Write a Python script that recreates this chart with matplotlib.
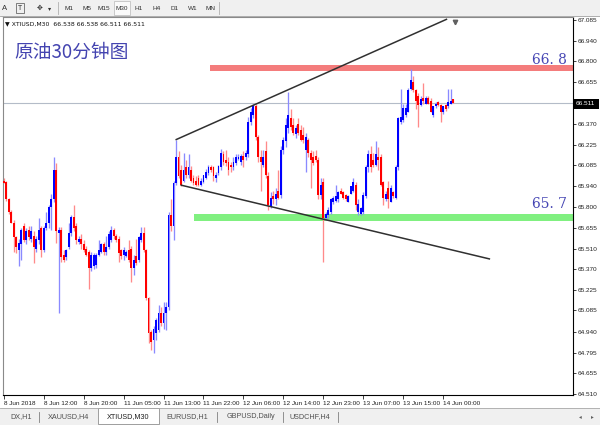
import matplotlib
matplotlib.use("Agg")
import matplotlib.pyplot as plt
from matplotlib.patches import Rectangle, Polygon
from matplotlib.lines import Line2D
import numpy as np

# XTIUSD M30 candles (oldest first)
opens = [65.98, 65.97, 65.85, 65.76, 65.69, 65.59, 65.50, 65.54, 65.67, 65.57,
         65.64, 65.58, 65.60, 65.51, 65.57, 65.65, 65.50, 65.65, 65.69, 65.80,
         65.85, 66.05, 65.62, 65.64, 65.47, 65.45, 65.52, 65.62, 65.73, 65.67,
         65.56, 65.58, 65.54, 65.51, 65.49, 65.38, 65.39, 65.40, 65.47, 65.49,
         65.54, 65.49, 65.52, 65.57, 65.64, 65.60, 65.58, 65.50, 65.47, 65.46,
         65.50, 65.51, 65.38, 65.46, 65.43, 65.57, 65.62, 65.50, 65.17, 64.94,
         64.88, 64.93, 64.95, 65.07, 65.00, 65.07, 65.11, 65.74, 65.67, 65.96,
         66.14, 66.05, 65.98, 66.07, 66.02, 66.05, 66.00, 65.98, 66.00, 65.95,
         65.97, 66.00, 66.03, 66.07, 66.07, 66.00, 66.03, 66.07, 66.16, 66.12,
         66.11, 66.09, 66.07, 66.10, 66.13, 66.11, 66.15, 66.14, 66.16, 66.38,
         66.43, 66.49, 66.28, 66.14, 66.09, 66.18, 66.01, 65.80, 65.87, 65.85,
         65.91, 65.88, 66.19, 66.25, 66.34, 66.41, 66.36, 66.30, 66.37, 66.33,
         66.29, 66.19, 66.26, 66.17, 66.14, 66.15, 66.12, 65.88, 65.97, 65.72,
         65.74, 65.76, 65.83, 65.84, 65.85, 65.91, 65.90, 65.88, 65.83, 65.89,
         65.91, 65.95, 65.76, 65.75, 65.76, 65.87, 66.07, 66.16, 66.12, 66.09,
         66.14, 66.14, 65.97, 65.85, 65.93, 65.83, 65.90, 65.86, 66.07, 66.38,
         66.40, 66.43, 66.45, 66.61, 66.66, 66.60, 66.56, 66.50, 66.55, 66.51,
         66.55, 66.53, 66.43, 66.49, 66.52, 66.50, 66.45, 66.50, 66.49, 66.51,
         66.538]
highs = [66.00, 65.98, 65.86, 65.78, 65.71, 65.60, 65.58, 65.65, 65.69, 65.65,
         65.67, 65.67, 65.63, 65.60, 65.72, 65.67, 65.67, 65.76, 65.81, 65.89,
         66.14, 66.10, 65.66, 65.66, 65.50, 65.51, 65.69, 65.74, 65.81, 65.69,
         65.60, 65.61, 65.57, 65.53, 65.50, 65.49, 65.48, 65.48, 65.57, 65.55,
         65.56, 65.60, 65.63, 65.67, 65.65, 65.61, 65.60, 65.51, 65.52, 65.50,
         65.57, 65.53, 65.47, 65.58, 65.60, 65.66, 65.66, 65.51, 65.18, 64.95,
         64.98, 65.03, 65.12, 65.11, 65.14, 65.14, 65.76, 65.85, 65.98, 66.26,
         66.18, 66.09, 66.17, 66.12, 66.16, 66.08, 66.02, 66.01, 66.02, 66.00,
         66.02, 66.06, 66.09, 66.09, 66.08, 66.04, 66.09, 66.20, 66.18, 66.19,
         66.14, 66.11, 66.14, 66.16, 66.16, 66.16, 66.18, 66.19, 66.42, 66.48,
         66.51, 66.51, 66.29, 66.19, 66.19, 66.25, 66.04, 65.90, 65.91, 65.93,
         66.05, 66.22, 66.28, 66.41, 66.59, 66.47, 66.41, 66.36, 66.41, 66.36,
         66.35, 66.31, 66.27, 66.19, 66.18, 66.19, 66.14, 66.00, 66.00, 65.76,
         65.80, 65.86, 65.87, 65.95, 65.91, 65.93, 65.91, 65.89, 65.88, 65.94,
         66.00, 65.97, 65.85, 65.80, 65.90, 66.09, 66.19, 66.22, 66.17, 66.25,
         66.21, 66.16, 65.98, 65.91, 65.98, 65.95, 65.91, 66.09, 66.42, 66.61,
         66.51, 66.51, 66.62, 66.75, 66.70, 66.61, 66.58, 66.56, 66.65, 66.56,
         66.56, 66.55, 66.49, 66.52, 66.53, 66.51, 66.49, 66.51, 66.61, 66.61,
         66.538]
lows = [65.96, 65.84, 65.75, 65.69, 65.49, 65.48, 65.39, 65.43, 65.56, 65.54,
        65.57, 65.56, 65.41, 65.49, 65.54, 65.45, 65.49, 65.64, 65.65, 65.64,
        65.83, 65.55, 65.07, 65.42, 65.42, 65.43, 65.51, 65.60, 65.63, 65.54,
        65.54, 65.51, 65.49, 65.46, 65.23, 65.36, 65.37, 65.38, 65.46, 65.48,
        65.47, 65.47, 65.51, 65.56, 65.58, 65.56, 65.42, 65.44, 65.43, 65.45,
        65.42, 65.28, 65.33, 65.40, 65.42, 65.56, 65.49, 65.16, 64.86, 64.81,
        64.79, 64.88, 64.94, 64.98, 64.96, 64.95, 65.09, 65.63, 65.57, 65.95,
        66.00, 65.94, 65.97, 66.00, 66.00, 65.97, 65.95, 65.94, 65.94, 65.94,
        65.96, 65.99, 66.02, 66.04, 65.98, 65.97, 66.02, 66.05, 66.09, 66.08,
        66.02, 66.04, 66.05, 66.09, 66.12, 66.09, 66.07, 66.12, 66.14, 66.36,
        66.41, 66.26, 66.11, 65.91, 66.07, 66.00, 65.78, 65.79, 65.82, 65.81,
        65.85, 65.86, 66.16, 66.21, 66.31, 66.33, 66.29, 66.27, 66.29, 66.25,
        66.24, 66.04, 66.14, 65.93, 66.09, 66.11, 65.85, 65.85, 65.42, 65.71,
        65.72, 65.75, 65.82, 65.83, 65.83, 65.89, 65.85, 65.84, 65.83, 65.89,
        65.90, 65.78, 65.74, 65.74, 65.75, 65.86, 66.04, 66.04, 66.07, 66.08,
        66.05, 65.94, 65.81, 65.84, 65.79, 65.83, 65.86, 65.85, 66.05, 66.37,
        66.38, 66.42, 66.45, 66.60, 66.59, 66.47, 66.35, 66.49, 66.51, 66.51,
        66.51, 66.45, 66.42, 66.48, 66.49, 66.38, 66.44, 66.46, 66.48, 66.51,
        66.511]
closes = [65.96, 65.85, 65.76, 65.69, 65.59, 65.52, 65.55, 65.64, 65.57, 65.63,
          65.59, 65.63, 65.52, 65.58, 65.64, 65.50, 65.65, 65.69, 65.80, 65.85,
          66.05, 65.63, 65.64, 65.45, 65.43, 65.50, 65.62, 65.73, 65.65, 65.57,
          65.58, 65.54, 65.50, 65.47, 65.38, 65.47, 65.47, 65.47, 65.50, 65.54,
          65.49, 65.52, 65.61, 65.64, 65.60, 65.57, 65.48, 65.46, 65.50, 65.49,
          65.43, 65.38, 65.43, 65.41, 65.59, 65.62, 65.50, 65.17, 64.93, 64.87,
          64.96, 65.02, 65.07, 65.00, 65.07, 65.11, 65.74, 65.67, 65.96, 66.14,
          66.01, 65.95, 66.05, 66.02, 66.07, 65.98, 65.96, 65.95, 65.95, 65.98,
          66.02, 66.04, 66.07, 66.05, 66.01, 66.02, 66.08, 66.17, 66.11, 66.10,
          66.05, 66.07, 66.11, 66.14, 66.14, 66.15, 66.12, 66.17, 66.38, 66.45,
          66.49, 66.28, 66.14, 66.11, 66.14, 66.02, 65.81, 65.86, 65.85, 65.89,
          65.86, 66.19, 66.26, 66.36, 66.43, 66.35, 66.31, 66.34, 66.31, 66.26,
          66.26, 66.28, 66.17, 66.12, 66.10, 66.12, 65.88, 65.95, 65.72, 65.75,
          65.78, 65.85, 65.86, 65.87, 65.90, 65.89, 65.86, 65.85, 65.87, 65.94,
          65.97, 65.81, 65.82, 65.79, 65.88, 66.07, 66.16, 66.07, 66.09, 66.16,
          66.12, 65.95, 65.86, 65.89, 65.85, 65.93, 65.87, 66.07, 66.41, 66.42,
          66.48, 66.48, 66.60, 66.67, 66.60, 66.53, 66.50, 66.54, 66.53, 66.55,
          66.51, 66.45, 66.49, 66.51, 66.50, 66.45, 66.49, 66.47, 66.52, 66.53,
          66.511]

time_labels = ["8 Jun 2018", "8 Jun 12:00", "8 Jun 20:00", "11 Jun 05:00",
               "11 Jun 13:00", "11 Jun 22:00", "12 Jun 06:00", "12 Jun 14:00",
               "12 Jun 23:00", "13 Jun 07:00", "13 Jun 15:00", "14 Jun 00:00"]
label_bars = [0, 16, 32, 48, 64, 80, 96, 112, 128, 144, 160, 176]
price_ticks = [67.085, 66.940, 66.800, 66.655, 66.370, 66.225, 66.085, 65.940,
               65.800, 65.655, 65.510, 65.370, 65.225, 65.085, 64.940, 64.795,
               64.655, 64.510]
bid_price = 66.511
resistance_label = "66. 8"
support_label = "65. 7"
resistance_band = (66.733, 66.777)
support_band = (65.700, 65.750)
resistance_start = 82.8
support_start = 76.4
upper_trend_x = [68.8, 177.6]
upper_trend_y = [66.26, 67.092]
lower_trend_x = [70.8, 194.8]
lower_trend_y = [65.949, 65.439]
chart_shift_bar = 180.8
chart_title = "原油30分钟图"
symbol_header = "XTIUSD,M30  66.538 66.538 66.511 66.511"
timeframes = ["M1", "M5", "M15", "M30", "H1", "H4", "D1", "W1", "MN"]
tabs = ["DX,H1", "XAUUSD,H4", "XTIUSD,M30", "EURUSD,H1", "GBPUSD,Daily", "USDCHF,H4"]

W, H = 600, 425
def fx(x):
    return x / W
def fy(y):
    return 1 - y / H

plt.rcParams['font.family'] = ['Liberation Sans', 'DejaVu Sans']
fig = plt.figure(figsize=(6, 4.25), dpi=100)
fig.patch.set_facecolor('white')

ax = fig.add_axes([fx(3), fy(395), fx(573) - fx(3), fy(17) - fy(395)])
ax.set_facecolor('white')

o = np.array(opens); h = np.array(highs); l = np.array(lows); c = np.array(closes)
x = np.arange(len(o))
up = c >= o
body_col = np.where(up, '#0000ff', '#ff0000')
wick_col = np.where(up, '#8a8aff', '#ff8a8a')

# support / resistance zones
ax.add_patch(Rectangle((resistance_start, resistance_band[0]), 300,
                       resistance_band[1] - resistance_band[0],
                       facecolor='#f47c7c', edgecolor='none', zorder=1))
ax.add_patch(Rectangle((support_start, support_band[0]), 300,
                       support_band[1] - support_band[0],
                       facecolor='#80f080', edgecolor='none', zorder=1))

# bid line
ax.axhline(bid_price, color='#b4bcc8', lw=0.8, zorder=1)

# candles
ax.vlines(x, l, h, colors=wick_col, linewidth=0.95, zorder=2)
ax.bar(x, np.maximum(np.abs(c - o), 0.004), bottom=np.minimum(o, c), width=0.75,
       color=body_col, linewidth=0, zorder=3)

# channel lines
ax.plot(upper_trend_x, upper_trend_y, color='#303030', lw=1.1, zorder=4,
        solid_capstyle='butt')
ax.plot(lower_trend_x, lower_trend_y, color='#303030', lw=1.1, zorder=4,
        solid_capstyle='butt')

ax.set_xlim(-0.3, 228)
ax.set_ylim(64.503, 67.106)

# chart shift marker at the top edge
ax.plot([chart_shift_bar], [67.07], marker='v', markersize=3.2, color='#606060',
        clip_on=False, zorder=5)

ax.yaxis.tick_right()
ax.set_yticks(price_ticks)
ax.set_yticklabels([f"{p:.3f}" for p in price_ticks])
ax.tick_params(axis='y', labelsize=4.6, length=2, width=0.6, pad=1.5,
               colors='#202020')
ax.set_xticks(label_bars)
ax.set_xticklabels(time_labels, ha='left')
ax.tick_params(axis='x', labelsize=4.6, length=3, width=0.6, pad=1.5,
               colors='#202020')
for s in ['right', 'bottom']:
    ax.spines[s].set_color('#000000')
    ax.spines[s].set_linewidth(0.8)
for s in ['left', 'top']:
    ax.spines[s].set_color('#8a8a8a')
    ax.spines[s].set_linewidth(0.8)

# current price box
fig.patches.append(Rectangle((fx(574), fy(108.5)), fx(25), fy(98.5) - fy(108.5),
                             transform=fig.transFigure, facecolor='black',
                             edgecolor='none', zorder=5))
fig.text(fx(576), fy(103.5), f"{bid_price:.3f}", color='white', fontsize=4.6,
         va='center', ha='left', zorder=6)

# level labels and title
fig.text(fx(567), fy(60), resistance_label, color='#4646b4', fontsize=10,
         family='DejaVu Serif', ha='right', va='center')
fig.text(fx(567), fy(204), support_label, color='#4646b4', fontsize=10,
         family='DejaVu Serif', ha='right', va='center')
fig.text(fx(14), fy(52), chart_title, color='#4444b0', fontsize=13.5,
         family=['Noto Sans CJK SC', 'DejaVu Sans'], ha='left', va='center')
fig.text(fx(5), fy(23.5), "\u25BC " + symbol_header, fontsize=4.4,
         family=['DejaVu Sans'], color='#101010', ha='left', va='center')

# toolbar
fig.patches.append(Rectangle((0, fy(16)), 1, fy(0) - fy(16), transform=fig.transFigure,
                             facecolor='#f0f0f0', edgecolor='none', zorder=0))
fig.lines.append(Line2D([0, 1], [fy(16), fy(16)], transform=fig.transFigure,
                        color='#a0a0a0', lw=0.6))
fig.text(fx(5), fy(8), "A", fontsize=5.5, color='#303030', ha='center', va='center')
fig.patches.append(Rectangle((fx(16), fy(13)), fx(8), fy(3) - fy(13),
                             transform=fig.transFigure, facecolor='none',
                             edgecolor='#505050', lw=0.5))
fig.text(fx(20), fy(8), "T", fontsize=5, color='#303030', ha='center', va='center')
fig.text(fx(40), fy(8), "\u2725", fontsize=5, color='#303030', ha='center',
         va='center', family='DejaVu Sans')
fig.text(fx(50), fy(8.5), "\u25BE", fontsize=4.5, color='#303030', ha='center',
         va='center', family='DejaVu Sans')
fig.lines.append(Line2D([fx(58), fx(58)], [fy(2), fy(14)], transform=fig.transFigure,
                        color='#b0b0b0', lw=0.6))
tf_x = [69, 87, 104, 122, 139, 157, 175, 193, 210]
for name, px in zip(timeframes, tf_x):
    if name == "M30":
        fig.patches.append(Rectangle((fx(114), fy(15)), fx(16), fy(1) - fy(15),
                                     transform=fig.transFigure, facecolor='#fafafa',
                                     edgecolor='#b8b8b8', lw=0.5))
    fig.text(fx(px), fy(8.5), name, fontsize=4.6, color='#303030', ha='center',
             va='center')
fig.lines.append(Line2D([fx(219), fx(219)], [fy(2), fy(14)], transform=fig.transFigure,
                        color='#b0b0b0', lw=0.6))

# symbol tabs
fig.patches.append(Rectangle((0, 0), 1, fy(408), transform=fig.transFigure,
                             facecolor='#f0f0f0', edgecolor='none', zorder=0))
fig.lines.append(Line2D([0, 1], [fy(408), fy(408)], transform=fig.transFigure,
                        color='#a8a8a8', lw=0.6))
fig.patches.append(Rectangle((fx(98), fy(424)), fx(61), fy(407.5) - fy(424),
                             transform=fig.transFigure, facecolor='white',
                             edgecolor='#909090', lw=0.6, zorder=1))
tab_x = [21, 69, 128, 187, 251, 310]
for name, px in zip(tabs, tab_x):
    fig.text(fx(px), fy(417), name, fontsize=5.2,
             color='#202020' if name == "XTIUSD,M30" else '#505050',
             ha='center', va='center', zorder=2)
for sx in [39, 217, 283, 338]:
    fig.lines.append(Line2D([fx(sx), fx(sx)], [fy(412), fy(422)],
                            transform=fig.transFigure, color='#808080', lw=0.6))
fig.text(fx(580), fy(417), "\u25C2", fontsize=4, color='#606060', ha='center',
         va='center', family='DejaVu Sans')
fig.text(fx(592), fy(417), "\u25B8", fontsize=4, color='#606060', ha='center',
         va='center', family='DejaVu Sans')

fig.savefig("out.png", dpi=100)
